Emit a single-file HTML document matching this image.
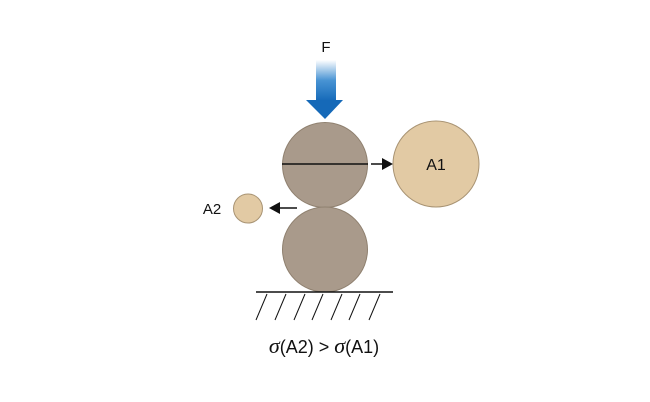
<!DOCTYPE html>
<html><head><meta charset="utf-8"><style>
html,body{margin:0;padding:0;background:#fff;}
svg{display:block;}
text{font-family:"Liberation Sans",sans-serif;fill:#111;}
</style></head><body>
<svg width="650" height="402" viewBox="0 0 650 402" xmlns="http://www.w3.org/2000/svg">
<defs>
<linearGradient id="g" x1="0" y1="0" x2="0" y2="1">
<stop offset="0" stop-color="#1a78c8" stop-opacity="0"/>
<stop offset="0.5" stop-color="#1a78c8" stop-opacity="0.8"/>
<stop offset="1" stop-color="#1569b8"/>
</linearGradient>
</defs>
<text x="326" y="52" font-size="15" text-anchor="middle">F</text>
<rect x="316" y="60" width="20" height="41" fill="url(#g)"/>
<polygon points="306,100 343,100 325,119" fill="#1569b8"/>
<circle cx="325" cy="165" r="42.5" fill="#a99a8b" stroke="#8f806f" stroke-width="1"/>
<circle cx="325" cy="249.5" r="42.5" fill="#a99a8b" stroke="#8f806f" stroke-width="1"/>
<line x1="282" y1="164" x2="368" y2="164" stroke="#111" stroke-width="1.5"/>
<line x1="371" y1="164" x2="384" y2="164" stroke="#111" stroke-width="1.5"/>
<polygon points="382,158 393,164 382,170" fill="#111"/>
<circle cx="436" cy="164" r="43" fill="#e2caa4" stroke="#a89373" stroke-width="1"/>
<text x="436" y="170" font-size="16" text-anchor="middle">A1</text>
<circle cx="248" cy="208.5" r="14.5" fill="#e2caa4" stroke="#a89373" stroke-width="1"/>
<text x="212" y="214" font-size="15" text-anchor="middle">A2</text>
<line x1="297" y1="208" x2="278" y2="208" stroke="#111" stroke-width="1.5"/>
<polygon points="280,202 269,208 280,214" fill="#111"/>
<line x1="256" y1="292" x2="393" y2="292" stroke="#111" stroke-width="1.5"/>
<g stroke="#111" stroke-width="1">
<line x1="267" y1="294" x2="256" y2="320"/>
<line x1="286" y1="294" x2="275" y2="320"/>
<line x1="305" y1="294" x2="294" y2="320"/>
<line x1="323" y1="294" x2="312" y2="320"/>
<line x1="342" y1="294" x2="331" y2="320"/>
<line x1="360" y1="294" x2="349" y2="320"/>
<line x1="380" y1="294" x2="369" y2="320"/>
</g>
<text x="324" y="353" font-size="18" text-anchor="middle"><tspan font-family="Liberation Serif" font-style="italic" font-size="22">σ</tspan>(A2) &gt; <tspan font-family="Liberation Serif" font-style="italic" font-size="22">σ</tspan>(A1)</text>
</svg>
</body></html>
